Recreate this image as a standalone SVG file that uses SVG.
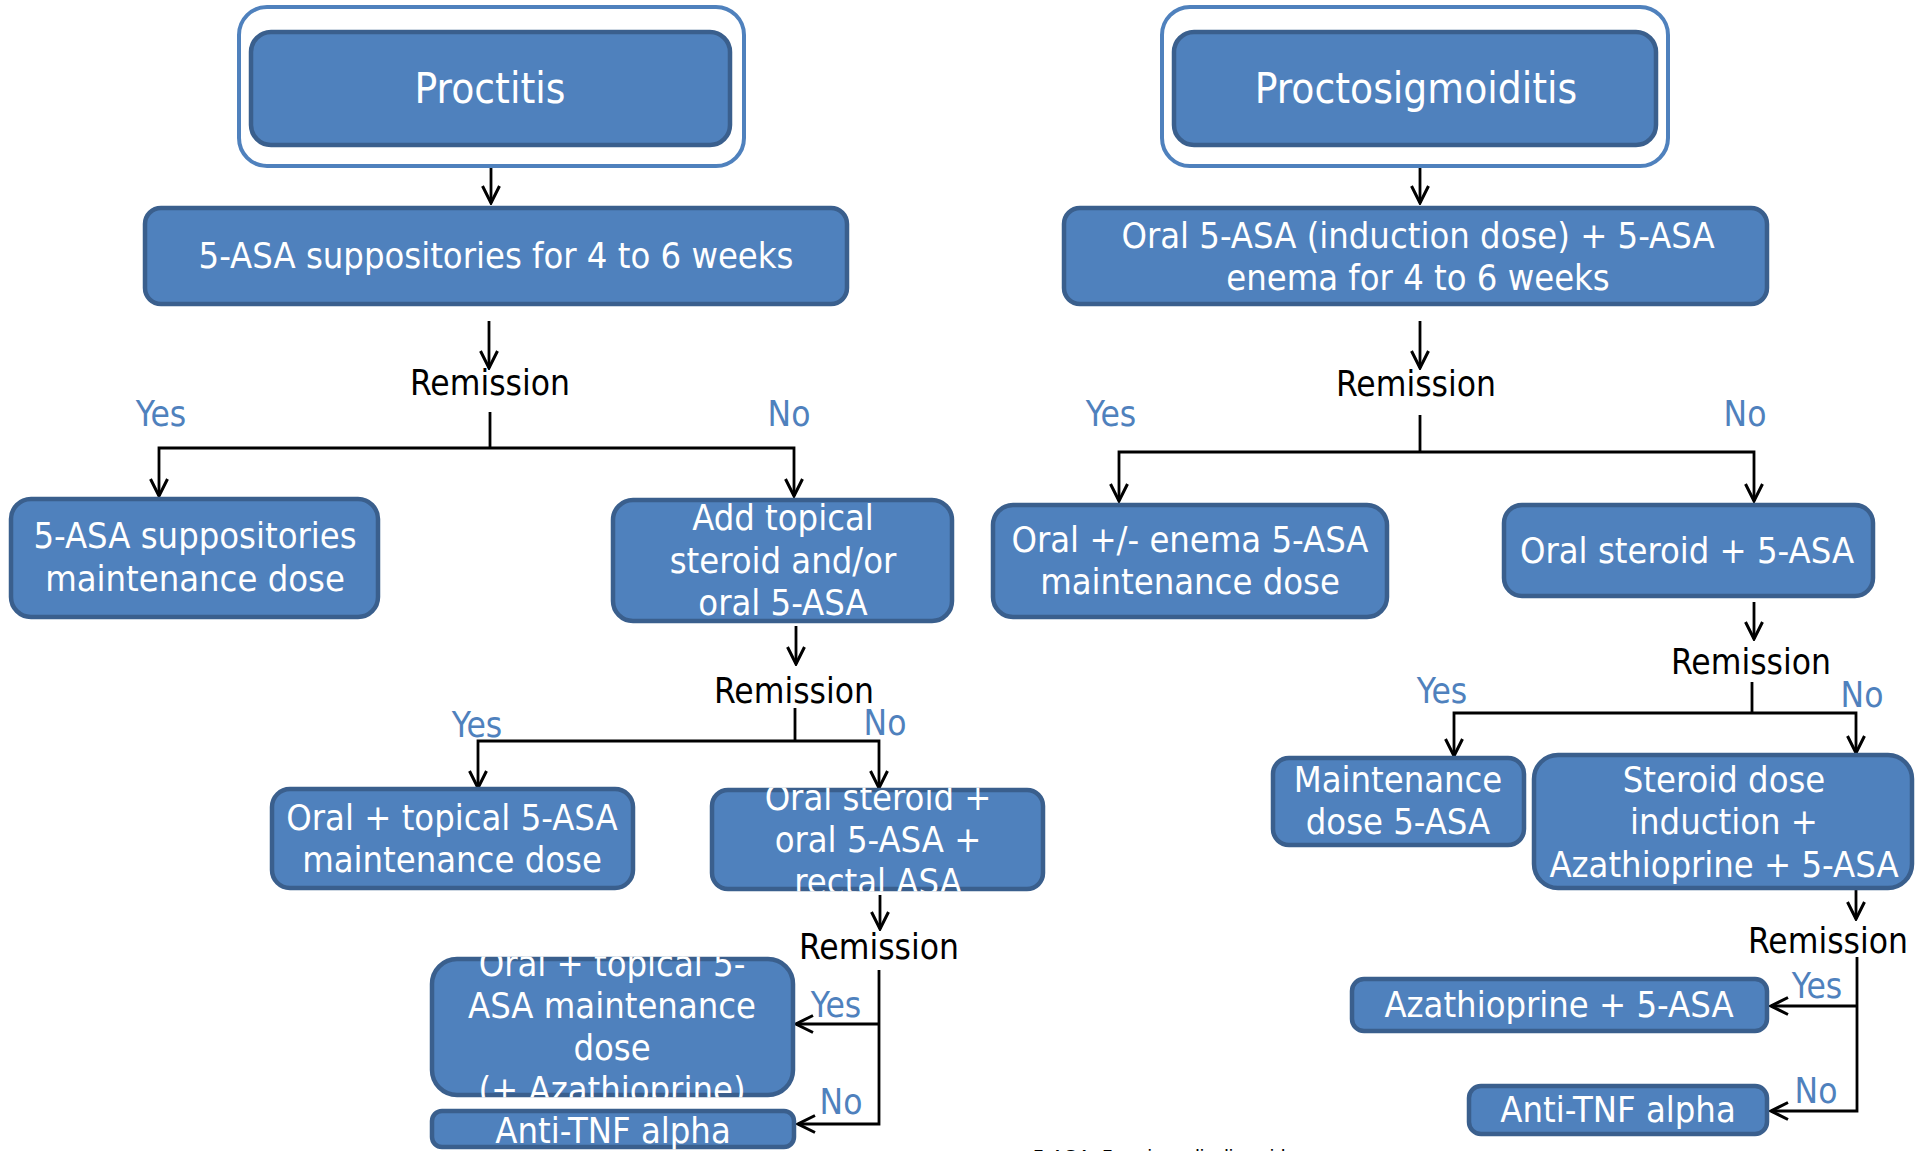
<svg xmlns="http://www.w3.org/2000/svg" width="1915" height="1151" viewBox="0 0 1915 1151">
<style>
.bg{fill:#ffffff}
.ring{fill:#ffffff;stroke:#4F81BD;stroke-width:4}
.box{fill:#4F81BD;stroke:#3A5F8D;stroke-width:4.5}
.t{fill:#ffffff;font-family:"DejaVu Sans Condensed","DejaVu Sans",sans-serif;font-size:36px;text-anchor:middle}
.title{font-size:42px}
.rem{fill:#000000;font-family:"DejaVu Sans Condensed","DejaVu Sans",sans-serif;font-size:35px;text-anchor:middle}
.yn{fill:#4F81BD;font-family:"DejaVu Sans Condensed","DejaVu Sans",sans-serif;font-size:35px;text-anchor:middle}
.foot{fill:#000000;font-family:"Liberation Sans",Arial,sans-serif;font-size:20px}
.c{fill:none;stroke:#000000;stroke-width:2.8}
.a{marker-end:url(#ah)}
</style>
<defs>
<marker id="ah" viewBox="0 0 20 20" refX="18" refY="10" markerWidth="20" markerHeight="20" markerUnits="userSpaceOnUse" orient="auto">
<path d="M1,1.5 L18,10 L1,18.5" fill="none" stroke="#000000" stroke-width="3"/>
</marker>
<clipPath id="clipL4b"><rect x="709.5" y="787.5" width="336" height="104" rx="16"/></clipPath>
<clipPath id="clipL5a"><rect x="429.5" y="956.5" width="366" height="141" rx="27"/></clipPath>
<clipPath id="clipL5b"><rect x="429.5" y="1108.5" width="367" height="41" rx="12"/></clipPath>
</defs>
<rect class="bg" x="0" y="0" width="1915" height="1151"/>

<g id="connectors">
<path class="c a" d="M491,168 V203"/>
<path class="c a" d="M489,321 V368"/>
<path class="c" d="M490,412 V448"/>
<path class="c a" d="M490,448 H159 V496"/>
<path class="c a" d="M490,448 H794 V496"/>
<path class="c a" d="M796,626 V664"/>
<path class="c" d="M795,708 V741"/>
<path class="c a" d="M795,741 H478 V788"/>
<path class="c a" d="M795,741 H879 V788"/>
<path class="c a" d="M880,895 V929"/>
<path class="c a" d="M879,970 V1124 H798"/>
<path class="c a" d="M879,1024 H796"/>

<path class="c a" d="M1420,168 V203"/>
<path class="c a" d="M1420,321 V368"/>
<path class="c" d="M1420,415 V452"/>
<path class="c a" d="M1420,452 H1119 V501"/>
<path class="c a" d="M1420,452 H1754 V501"/>
<path class="c a" d="M1754,602 V639"/>
<path class="c" d="M1752,682 V713"/>
<path class="c a" d="M1752,713 H1454 V756"/>
<path class="c a" d="M1752,713 H1856 V753"/>
<path class="c a" d="M1856,890 V919"/>
<path class="c a" d="M1857,957 V1111 H1771"/>
<path class="c a" d="M1857,1006 H1771"/>
</g>

<g id="proctitis">
<rect class="ring" x="239" y="7" width="505" height="159" rx="28"/>
<rect class="box" x="251" y="32" width="479" height="113" rx="20"/>
<text class="t title" x="490" y="103">Proctitis</text>
</g>
<g id="supp-4-6">
<rect class="box" x="145" y="208" width="702" height="96" rx="16"/>
<text class="t" x="496" y="268">5-ASA suppositories for 4 to 6 weeks</text>
</g>
<g id="remission-l1">
<text class="rem" x="490" y="395">Remission</text>
<text class="yn" x="161" y="426">Yes</text>
<text class="yn" x="789" y="426">No</text>
</g>
<g id="supp-maint">
<rect class="box" x="11" y="499" width="367" height="118" rx="20"/>
<text class="t" x="195" y="548">5-ASA suppositories</text>
<text class="t" x="195" y="591">maintenance dose</text>
</g>
<g id="add-topical">
<rect class="box" x="613" y="500" width="339" height="121" rx="20"/>
<text class="t" x="783" y="530">Add topical</text>
<text class="t" x="783" y="573">steroid and/or</text>
<text class="t" x="783" y="615">oral 5-ASA</text>
</g>
<g id="remission-l2">
<text class="rem" x="794" y="703">Remission</text>
<text class="yn" x="477" y="737">Yes</text>
<text class="yn" x="885" y="735">No</text>
</g>
<g id="oral-topical-maint">
<rect class="box" x="272" y="789" width="361" height="99" rx="18"/>
<text class="t" x="452" y="830">Oral + topical 5-ASA</text>
<text class="t" x="452" y="872">maintenance dose</text>
</g>
<g id="oral-steroid-rectal">
<rect class="box" x="712" y="790" width="331" height="99" rx="16"/>
<g clip-path="url(#clipL4b)">
<text class="t" x="878" y="810">Oral steroid +</text>
<text class="t" x="878" y="852">oral 5-ASA +</text>
<text class="t" x="878" y="894">rectal ASA</text>
</g>
</g>
<g id="remission-l3">
<text class="rem" x="879" y="959">Remission</text>
<text class="yn" x="836" y="1017">Yes</text>
<text class="yn" x="841" y="1114">No</text>
</g>
<g id="oral-topical-aza">
<rect class="box" x="432" y="959" width="361" height="136" rx="25"/>
<g clip-path="url(#clipL5a)">
<text class="t" x="612" y="976">Oral + topical 5-</text>
<text class="t" x="612" y="1018">ASA maintenance</text>
<text class="t" x="612" y="1060">dose</text>
<text class="t" x="612" y="1102">(+ Azathioprine)</text>
</g>
</g>
<g id="anti-tnf-left">
<rect class="box" x="432" y="1111" width="362" height="36" rx="10"/>
<g clip-path="url(#clipL5b)">
<text class="t" x="613" y="1143">Anti-TNF alpha</text>
</g>
</g>

<g id="proctosigmoiditis">
<rect class="ring" x="1162" y="7" width="506" height="159" rx="28"/>
<rect class="box" x="1174" y="32" width="482" height="113" rx="20"/>
<text class="t title" x="1416" y="103">Proctosigmoiditis</text>
</g>
<g id="oral-enema-4-6">
<rect class="box" x="1064" y="208" width="703" height="96" rx="16"/>
<text class="t" x="1418" y="248">Oral 5-ASA (induction dose) + 5-ASA</text>
<text class="t" x="1418" y="290">enema for 4 to 6 weeks</text>
</g>
<g id="remission-r1">
<text class="rem" x="1416" y="396">Remission</text>
<text class="yn" x="1111" y="426">Yes</text>
<text class="yn" x="1745" y="426">No</text>
</g>
<g id="oral-enema-maint">
<rect class="box" x="993" y="505" width="394" height="112" rx="20"/>
<text class="t" x="1190" y="552">Oral +/- enema 5-ASA</text>
<text class="t" x="1190" y="594">maintenance dose</text>
</g>
<g id="oral-steroid">
<rect class="box" x="1504" y="505" width="369" height="91" rx="18"/>
<text class="t" x="1687" y="563">Oral steroid + 5-ASA</text>
</g>
<g id="remission-r2">
<text class="rem" x="1751" y="674">Remission</text>
<text class="yn" x="1442" y="703">Yes</text>
<text class="yn" x="1862" y="707">No</text>
</g>
<g id="maint-dose">
<rect class="box" x="1273" y="758" width="251" height="87" rx="16"/>
<text class="t" x="1398" y="792">Maintenance</text>
<text class="t" x="1398" y="834">dose 5-ASA</text>
</g>
<g id="steroid-induction">
<rect class="box" x="1534" y="755" width="378" height="133" rx="24"/>
<text class="t" x="1724" y="792">Steroid dose</text>
<text class="t" x="1724" y="834">induction +</text>
<text class="t" x="1724" y="877">Azathioprine + 5-ASA</text>
</g>
<g id="remission-r3">
<text class="rem" x="1828" y="953">Remission</text>
<text class="yn" x="1817" y="998">Yes</text>
<text class="yn" x="1816" y="1103">No</text>
</g>
<g id="aza">
<rect class="box" x="1352" y="979" width="415" height="52" rx="12"/>
<text class="t" x="1559" y="1017">Azathioprine + 5-ASA</text>
</g>
<g id="anti-tnf-right">
<rect class="box" x="1469" y="1086" width="298" height="48" rx="12"/>
<text class="t" x="1618" y="1122">Anti-TNF alpha</text>
</g>

<text class="foot" x="1033" y="1164">5-ASA: 5-aminosalicylic acid</text>
</svg>
